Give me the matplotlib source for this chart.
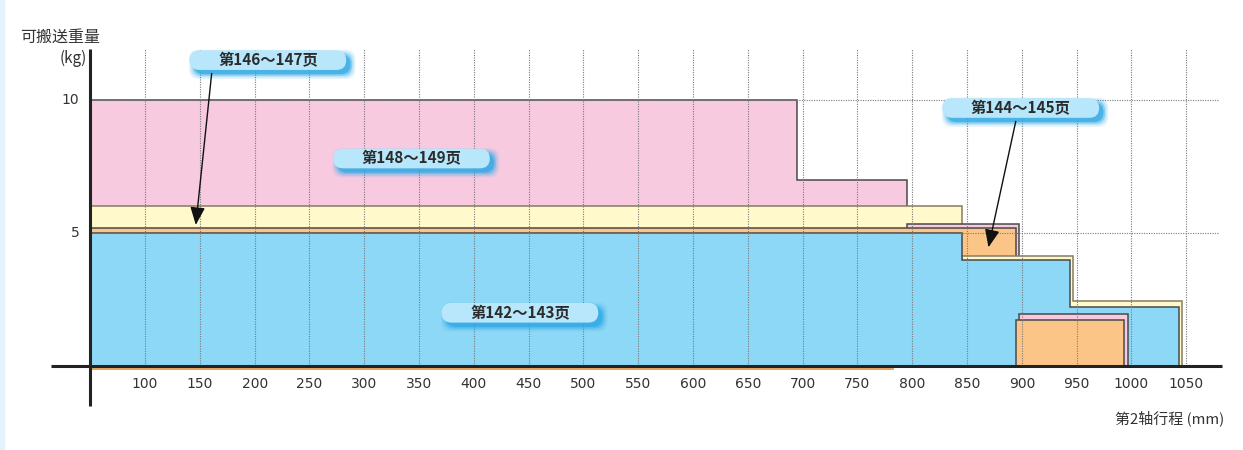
import numpy as np
import matplotlib.pyplot as plt
from matplotlib.patches import Polygon, FancyBboxPatch

plt.rcParams['font.family'] = ['Noto Sans CJK SC', 'DejaVu Sans']

# step outlines of each load range: stroke edges (mm) and payload (kg)
pink_edges = [50, 695, 795, 897, 997]
pink_kg = [10, 7, 5.35, 1.97]
yellow_edges = [50, 845, 947, 1046]
yellow_kg = [6, 4.15, 2.45]
orange_edges = [50, 895, 993]
orange_kg = [5.2, 1.73]
blue_edges = [50, 845, 944, 1043]
blue_kg = [5.0, 4.0, 2.2]

x_ticks = list(range(100, 1051, 50))
y_ticks = [5, 10]

labels = ['第148～149页', '第146～147页', '第144～145页', '第142～143页']
label_pos = [(343, 7.8), (212, 11.5), (899, 9.7), (442, 2.0)]
arrow_from = {1: (161, 11.1), 2: (895, 9.3)}
arrow_to = {1: (146, 5.2), 2: (869, 4.36)}

PINK = '#f7cadf'
YELLOW = '#fff9cc'
ORANGE = '#fbc588'
BLUE = '#8dd8f6'
EDGE = '#4a4a4a'

fig = plt.figure(figsize=(12.43, 4.5), dpi=100)
ax = fig.add_axes([0, 0, 1, 1])
ax.set_xlim(-32.4, 1101.8)
ax.set_ylim(-3.16, 13.76)
ax.axis('off')

# light blue strip at the left edge
fig.patches.append(plt.Rectangle((0, 0), 0.0035, 1, transform=fig.transFigure,
                                 color='#e2f3fc', zorder=0))


def step_shape(edges, heights, color, z, ec=EDGE):
    pts = [(edges[0], 0)]
    for i, h in enumerate(heights):
        pts.append((edges[i], h))
        pts.append((edges[i + 1], h))
    pts.append((edges[-1], 0))
    ax.add_patch(Polygon(pts, closed=True, fc=color, ec=ec, lw=1.1, zorder=z))


step_shape(pink_edges[:3], pink_kg[:2], PINK, 1)
step_shape(yellow_edges[:2], yellow_kg[:1], YELLOW, 2, ec='#857d62')
step_shape(pink_edges[2:4], pink_kg[2:3], PINK, 2.5)
step_shape(orange_edges[:2], orange_kg[:1], ORANGE, 3)
step_shape(yellow_edges[1:], yellow_kg[1:], YELLOW, 3.5, ec='#857d62')
step_shape(blue_edges, blue_kg, BLUE, 4)
step_shape(pink_edges[3:], pink_kg[3:], PINK, 4.5)
step_shape(orange_edges[1:], orange_kg[1:], ORANGE, 5)

# dotted grid
for x in x_ticks:
    ax.plot([x, x], [0, 11.9], ls=(0, (1, 1.2)), color='#7a7a7a', lw=0.8, zorder=6)
for y in y_ticks:
    ax.plot([50, 1080], [y, y], ls=(0, (1, 1.2)), color='#7a7a7a', lw=0.8, zorder=6)

# axes lines
ax.plot([50, 782], [-0.12, -0.12], color='#e8a458', lw=1.4, zorder=6)
ax.plot([14, 1083], [0, 0], color='#222222', lw=2.2, zorder=7, solid_capstyle='butt')
ax.plot([50, 50], [-1.5, 11.9], color='#222222', lw=2.2, zorder=7, solid_capstyle='butt')

for x in x_ticks:
    ax.text(x, -0.68, str(x), ha='center', va='center', fontsize=10,
            family='DejaVu Sans', color='#333333')
for y in y_ticks:
    ax.text(40, y, str(y), ha='right', va='center', fontsize=10,
            family='DejaVu Sans', color='#333333')

ax.text(-14, 12.37, '可搬送重量', ha='left', va='center', fontsize=11.5, color='#333333')
ax.text(47, 11.55, '(kg)', ha='right', va='center', fontsize=11, color='#333333')
ax.text(1085, -1.96, '第2轴行程 (mm)', ha='right', va='center', fontsize=10.8, color='#333333')

# page labels: pill boxes with a soft blue shadow
bw, bh = 143, 0.74
aspect = (1 / 26.6) / (1 / 1.096)
for i, (lab, (cx, cy)) in enumerate(zip(labels, label_pos)):
    for k, a in enumerate([0.12, 0.2, 0.4, 0.7]):
        grow = (3 - k) * 1.5
        ax.add_patch(FancyBboxPatch((cx - bw / 2 + 4 - grow, cy - bh / 2 - 0.16 - grow * 0.04),
                                    bw + 2 * grow, bh + 2 * grow * 0.04,
                                    boxstyle='round,pad=0,rounding_size=9',
                                    mutation_aspect=aspect, fc='#2fa9e6', ec='none',
                                    alpha=a, zorder=8))
    ax.add_patch(FancyBboxPatch((cx - bw / 2, cy - bh / 2), bw, bh,
                                boxstyle='round,pad=0,rounding_size=9',
                                mutation_aspect=aspect, fc='#b8e6fa', ec='none', zorder=9))
    ax.text(cx, cy, lab, ha='center', va='center', fontsize=11, fontweight='bold',
            color='#2b2b2b', zorder=10)

for i in arrow_from:
    ax.annotate('', xy=arrow_to[i], xytext=arrow_from[i],
                arrowprops=dict(arrowstyle='-|>,head_length=0.6,head_width=0.25',
                                color='#111111', lw=1, mutation_scale=18), zorder=11)

fig.savefig('out.png', dpi=100)
